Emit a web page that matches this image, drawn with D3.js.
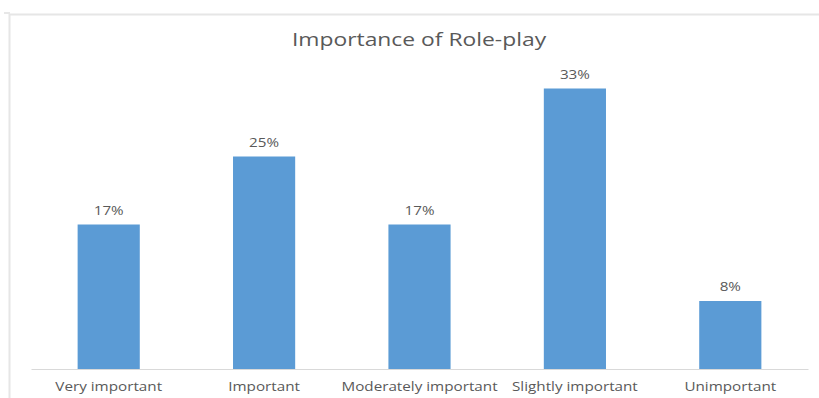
<!DOCTYPE html>
<html>
<head>
<meta charset="utf-8">
<script src="https://cdn.jsdelivr.net/npm/d3@7"></script>
<style>
  html, body { margin: 0; padding: 0; background: #fff; }
  svg { display: block; }
</style>
</head>
<body>
<svg id="chart" width="819" height="398"></svg>
<script>
const categories = ["Very important", "Important", "Moderately important", "Slightly important", "Unimportant"];
const values = [17, 25, 17, 33, 8];
const valueLabels = ["17%", "25%", "17%", "33%", "8%"];
const chartTitle = "Importance of Role-play";

const svg = d3.select("#chart");
const W = 819, H = 398;
const font = "'Open Sans', 'Noto Sans', sans-serif";
const textColor = "#595959";
const stretch = 1.27; // wide text rendering

// chart area frame (top and left edges visible)
svg.append("line").attr("x1", 10).attr("x2", W).attr("y1", 14.5).attr("y2", 14.5)
  .attr("stroke", "#e6e6e6").attr("stroke-width", 2);
svg.append("line").attr("x1", 9.5).attr("x2", 9.5).attr("y1", 14).attr("y2", H)
  .attr("stroke", "#e6e6e6").attr("stroke-width", 2);
svg.append("line").attr("x1", 4).attr("x2", 10).attr("y1", 13).attr("y2", 13)
  .attr("stroke", "#cfcfcf").attr("stroke-width", 1);

const x = d3.scaleBand().domain(categories).range([31, 808])
  .paddingInner(0.6).paddingOuter(0.3);
const y = d3.scaleLinear().domain([0, 35]).range([369, 71.5]);

function stretchedText(parent, cx, cy, str, size) {
  return parent.append("text")
    .attr("transform", `translate(${cx},${cy}) scale(${stretch},1)`)
    .attr("text-anchor", "middle")
    .attr("font-family", font).attr("font-size", size)
    .attr("fill", textColor)
    .text(str);
}

stretchedText(svg, 419, 46, chartTitle, 18);

svg.selectAll("rect.bar").data(values).join("rect")
  .attr("class", "bar")
  .attr("x", (d, i) => x(categories[i]))
  .attr("width", x.bandwidth())
  .attr("y", d => y(d))
  .attr("height", d => y(0) - y(d))
  .attr("fill", "#5b9bd5");

values.forEach((d, i) => {
  stretchedText(svg, x(categories[i]) + x.bandwidth() / 2, y(d) - 10, valueLabels[i], 12);
});

const axis = d3.axisBottom(x).tickSize(0).tickFormat("");
const g = svg.append("g").attr("transform", `translate(0,${y(0)})`).call(axis);
g.select(".domain").attr("stroke", "#d9d9d9").attr("stroke-width", 1.2);
g.selectAll(".tick").each(function(d) {
  d3.select(this).select("text").remove();
  stretchedText(d3.select(this), 0, 22, d, 12);
});
</script>
</body>
</html>
